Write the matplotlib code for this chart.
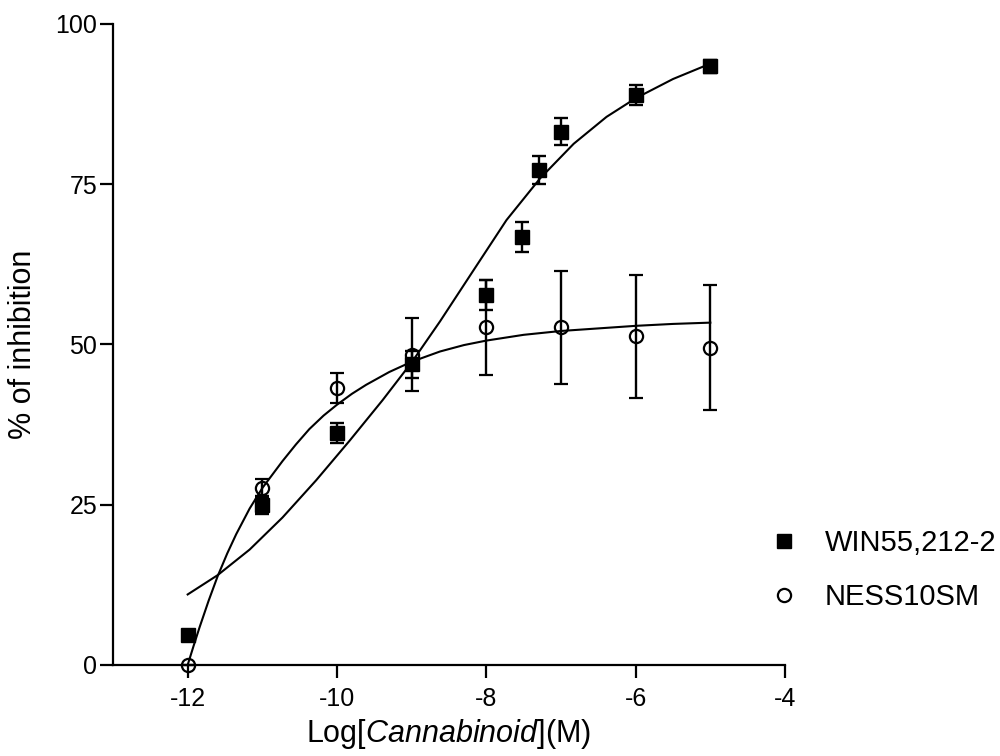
import matplotlib
matplotlib.use('Agg')
import matplotlib.pyplot as plt

plt.rcParams['font.family'] = ['Liberation Sans', 'DejaVu Sans']
plt.rcParams['mathtext.fontset'] = 'custom'
plt.rcParams['mathtext.rm'] = 'Liberation Sans'
plt.rcParams['mathtext.it'] = 'Liberation Sans:italic'
plt.rcParams['axes.unicode_minus'] = False

# measured points, log molar concentration
win_x = [-12, -11, -10, -9, -8, -7.52, -7.3, -7, -6, -5]
win_y = [4.6, 24.9, 36.2, 46.9, 57.7, 66.8, 77.2, 83.2, 88.9, 93.4]
win_err = [0.5, 1.4, 1.5, 2.1, 2.3, 2.35, 2.2, 2.1, 1.55, 1.0]

ness_x = [-12, -11, -10, -9, -8, -7, -6, -5]
ness_y = [0.0, 27.6, 43.2, 48.4, 52.7, 52.7, 51.3, 49.5]
ness_err = [0.0, 1.4, 2.35, 5.7, 7.4, 8.8, 9.6, 9.7]

# fitted curves
win_fit_x = [-12.0, -11.6, -11.17, -10.73, -10.28, -9.83, -9.39, -9.0, -8.62,
             -8.17, -7.73, -7.28, -6.83, -6.39, -6.0, -5.5, -5.0]
win_fit_y = [11.0, 14.0, 18.0, 23.0, 28.8, 35.0, 41.3, 47.2, 53.6,
             61.6, 69.4, 75.9, 81.3, 85.5, 88.4, 91.4, 93.8]

ness_fit_x = [-12.0, -11.92, -11.84, -11.72, -11.6, -11.47, -11.35, -11.17,
              -11.0, -10.73, -10.55, -10.37, -10.18, -10.0, -9.8, -9.61,
              -9.3, -9.0, -8.62, -8.3, -8.0, -7.5, -7.0, -6.5, -6.0, -5.5, -5.0]
ness_fit_y = [0.0, 3.0, 5.9, 10.0, 13.8, 17.4, 20.4, 24.4,
              27.6, 31.8, 34.4, 36.8, 38.9, 40.6, 42.3, 43.7,
              45.7, 47.3, 48.9, 49.9, 50.6, 51.5, 52.1, 52.5, 52.9, 53.2, 53.4]

labels = ['WIN55,212-2', 'NESS10SM']
xticks = [-12, -10, -8, -6, -4]
yticks = [0, 25, 50, 75, 100]

fig = plt.figure(figsize=(10, 7.56), dpi=100)
ax = fig.add_axes([0.113, 0.1204, 0.672, 0.848])

ax.plot(win_fit_x, win_fit_y, color='black', lw=1.5, zorder=2)
ax.plot(ness_fit_x, ness_fit_y, color='black', lw=1.5, zorder=2)

ax.errorbar(win_x, win_y, yerr=win_err, fmt='s', color='black', ms=9.5,
            ecolor='black', elinewidth=1.7, capsize=5, capthick=1.7,
            clip_on=False, zorder=3)
ax.errorbar(ness_x, ness_y, yerr=ness_err, fmt='o', color='black', ms=9.5,
            mfc='none', mec='black', mew=1.6, ecolor='black', elinewidth=1.7,
            capsize=5, capthick=1.7, clip_on=False, zorder=3)

ax.set_xlim(-13, -4)
ax.set_ylim(0, 100)
ax.set_xticks(xticks)
ax.set_yticks(yticks)
ax.tick_params(axis='both', direction='out', length=9.5, width=1.6, labelsize=18)
ax.tick_params(axis='y', pad=2)
ax.tick_params(axis='x', pad=6)
ax.spines['top'].set_visible(False)
ax.spines['right'].set_visible(False)
for s in ['left', 'bottom']:
    ax.spines[s].set_linewidth(1.6)

ax.set_xlabel(r'Log[$\mathit{Cannabinoid}$](M)', fontsize=22, labelpad=5)
ax.set_ylabel('% of inhibition', fontsize=22, labelpad=12)

h1, = ax.plot([], [], 's', color='black', ms=9.5)
h2, = ax.plot([], [], 'o', mfc='none', mec='black', mew=1.6, ms=9.5)
fig.legend([h1, h2], labels, loc='center left', bbox_to_anchor=(0.769, 0.246),
           frameon=False, fontsize=21, handletextpad=0.9, labelspacing=0.9,
           handlelength=1.0, borderpad=0, borderaxespad=0)

fig.savefig('out.png', dpi=100)
